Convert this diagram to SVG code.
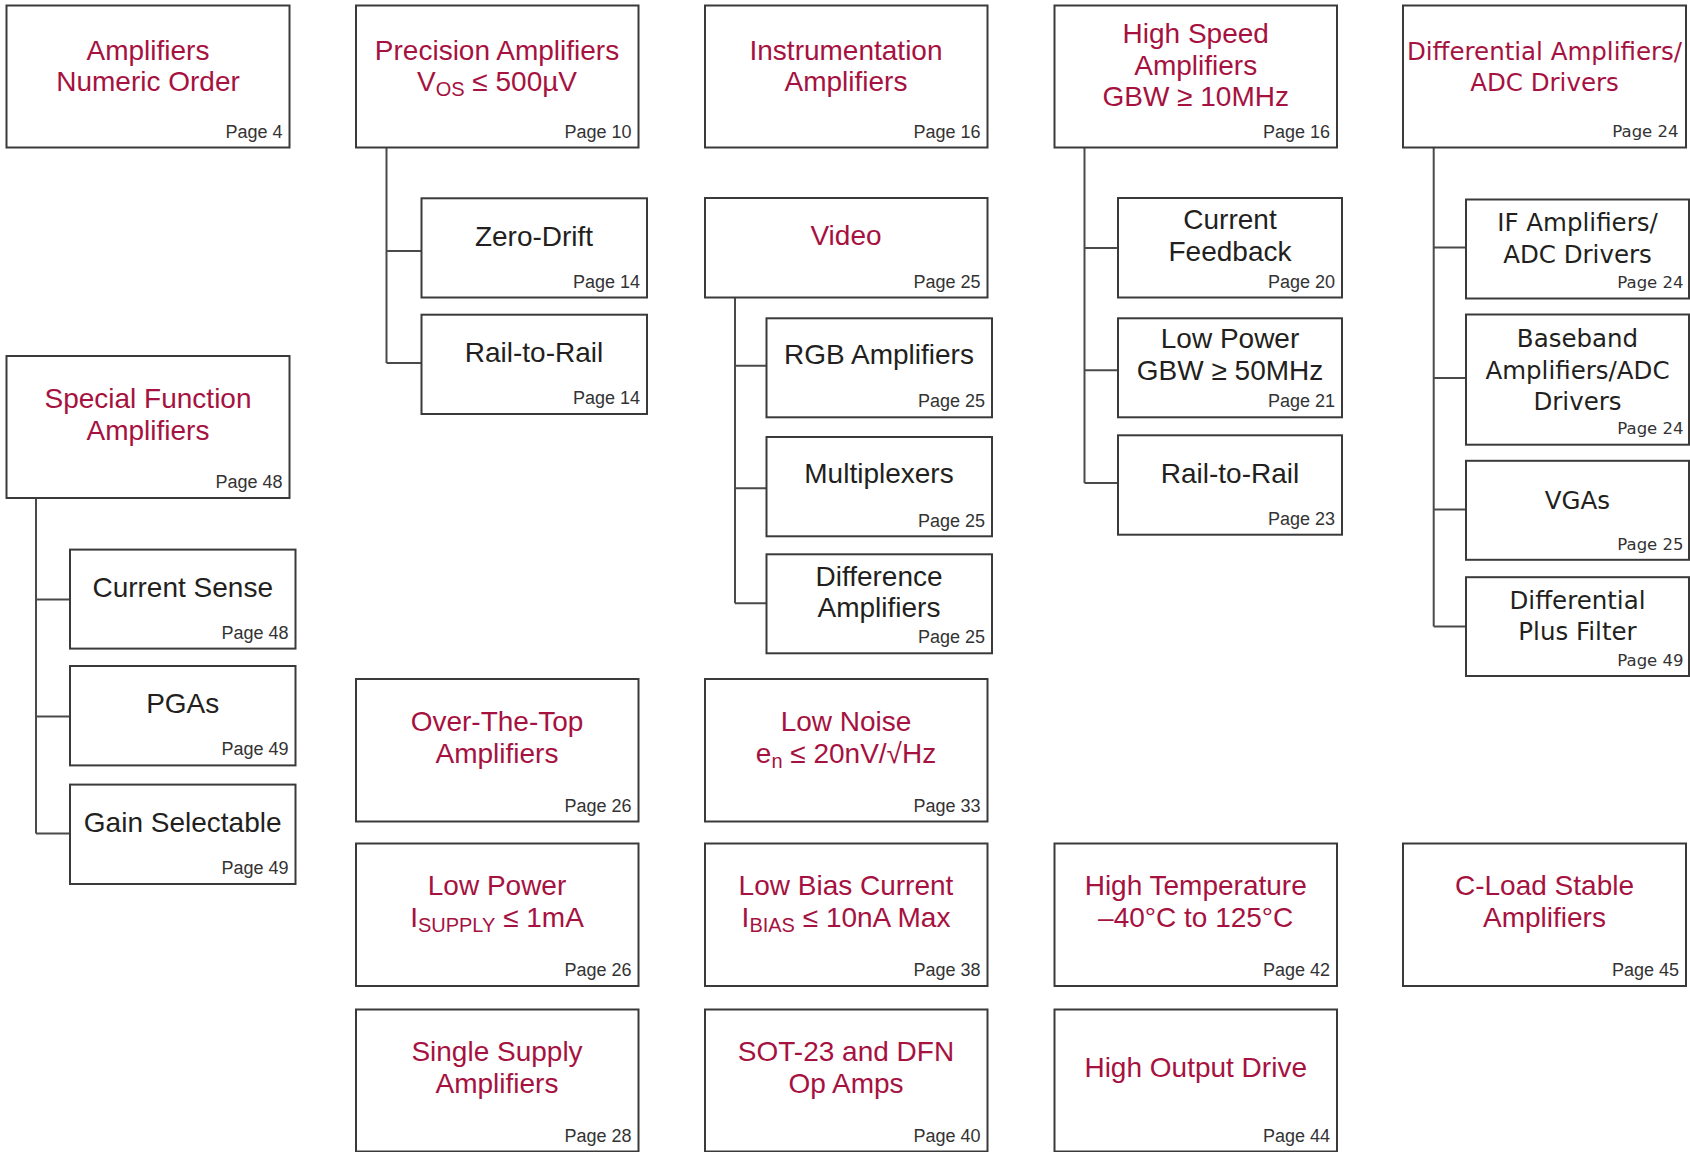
<svg xmlns="http://www.w3.org/2000/svg" width="1690" height="1152" viewBox="0 0 1690 1152">
<style>
.bx{fill:#fff;stroke:#3a3a3a;stroke-width:2}
.cn{fill:none;stroke:#4a4a4a;stroke-width:2}
.t{font-family:"Liberation Sans",Arial,sans-serif;font-size:28px;text-anchor:middle}
.r{fill:#a6123f}
.k{fill:#231f20}
.pg{font-family:"Liberation Sans",Arial,sans-serif;font-size:18px;text-anchor:end;fill:#333}
.g{font-family:"DejaVu Sans",sans-serif;font-size:24.5px;text-anchor:middle}
.gp{font-family:"DejaVu Sans",sans-serif;font-size:16.5px;text-anchor:end;fill:#333}
.sb{font-size:20px}
</style>
<rect width="1690" height="1152" fill="#fff"/>
<g id="connectors">
<path class="cn" d="M36,498V833.6M36,599.6H70M36,716.4H70M36,833.6H70"/>
<path class="cn" d="M386.5,147.5V363M386.5,251H421.5M386.5,363H421.5"/>
<path class="cn" d="M735,297.5V603.3M735,365.7H766M735,488.3H766M735,603.3H766"/>
<path class="cn" d="M1084.5,147.5V483M1084.5,248H1118M1084.5,370.3H1118M1084.5,483H1118"/>
<path class="cn" d="M1433.7,147.5V626.4M1433.7,247.4H1466M1433.7,378H1466M1433.7,509.6H1466M1433.7,626.4H1466"/>
</g>
<!-- Column A -->
<g id="amp-numeric"><rect class="bx" x="6.5" y="5.5" width="283" height="142"/>
<text class="t r" x="148" y="59.5">Amplifiers</text><text class="t r" x="148" y="91">Numeric Order</text>
<text class="pg" x="282.5" y="137.5">Page 4</text></g>
<g id="special-function"><rect class="bx" x="6.5" y="356" width="283" height="142"/>
<text class="t r" x="148" y="408">Special Function</text><text class="t r" x="148" y="440">Amplifiers</text>
<text class="pg" x="282.5" y="488">Page 48</text></g>
<g id="current-sense"><rect class="bx" x="70" y="549.6" width="225.5" height="99"/>
<text class="t k" x="182.7" y="596.5">Current Sense</text>
<text class="pg" x="288.5" y="638.6">Page 48</text></g>
<g id="pgas"><rect class="bx" x="70" y="666" width="225.5" height="99.4"/>
<text class="t k" x="182.7" y="712.5">PGAs</text>
<text class="pg" x="288.5" y="755.4">Page 49</text></g>
<g id="gain-selectable"><rect class="bx" x="70" y="784.6" width="225.5" height="99.4"/>
<text class="t k" x="182.7" y="831.8">Gain Selectable</text>
<text class="pg" x="288.5" y="874">Page 49</text></g>
<!-- Column B -->
<g id="precision"><rect class="bx" x="356" y="5.5" width="282.5" height="142"/>
<text class="t r" x="497" y="59.5">Precision Amplifiers</text>
<text class="t r" x="497" y="91">V<tspan class="sb" dy="5">OS</tspan><tspan dy="-5"> ≤ 500µV</tspan></text>
<text class="pg" x="631.5" y="137.5">Page 10</text></g>
<g id="zero-drift"><rect class="bx" x="421.5" y="198.3" width="225.5" height="99.2"/>
<text class="t k" x="534" y="246">Zero-Drift</text>
<text class="pg" x="640" y="287.5">Page 14</text></g>
<g id="rail-to-rail-b"><rect class="bx" x="421.5" y="314.7" width="225.5" height="99.3"/>
<text class="t k" x="534" y="361.7">Rail-to-Rail</text>
<text class="pg" x="640" y="404">Page 14</text></g>
<g id="over-the-top"><rect class="bx" x="356" y="679" width="282.5" height="142.5"/>
<text class="t r" x="497" y="731">Over-The-Top</text><text class="t r" x="497" y="763">Amplifiers</text>
<text class="pg" x="631.5" y="811.7">Page 26</text></g>
<g id="low-power"><rect class="bx" x="356" y="843.5" width="282.5" height="142.5"/>
<text class="t r" x="497" y="895">Low Power</text>
<text class="t r" x="497" y="927">I<tspan class="sb" dy="5">SUPPLY</tspan><tspan dy="-5"> ≤ 1mA</tspan></text>
<text class="pg" x="631.5" y="976">Page 26</text></g>
<g id="single-supply"><rect class="bx" x="356" y="1009.5" width="282.5" height="142"/>
<text class="t r" x="497" y="1060.5">Single Supply</text><text class="t r" x="497" y="1092.5">Amplifiers</text>
<text class="pg" x="631.5" y="1141.5">Page 28</text></g>
<!-- Column C -->
<g id="instrumentation"><rect class="bx" x="705" y="5.5" width="282.5" height="142"/>
<text class="t r" x="846" y="59.5">Instrumentation</text><text class="t r" x="846" y="91">Amplifiers</text>
<text class="pg" x="980.5" y="137.5">Page 16</text></g>
<g id="video"><rect class="bx" x="705" y="198" width="282.5" height="99.5"/>
<text class="t r" x="846" y="245.3">Video</text>
<text class="pg" x="980.5" y="287.5">Page 25</text></g>
<g id="rgb"><rect class="bx" x="766.5" y="318.3" width="225.5" height="99"/>
<text class="t k" x="879" y="364.3">RGB Amplifiers</text>
<text class="pg" x="985" y="407.3">Page 25</text></g>
<g id="multiplexers"><rect class="bx" x="766.5" y="437" width="225.5" height="99.3"/>
<text class="t k" x="879" y="483.3">Multiplexers</text>
<text class="pg" x="985" y="526.5">Page 25</text></g>
<g id="difference"><rect class="bx" x="766.5" y="554.3" width="225.5" height="99"/>
<text class="t k" x="879" y="585.7">Difference</text><text class="t k" x="879" y="616.7">Amplifiers</text>
<text class="pg" x="985" y="643.3">Page 25</text></g>
<g id="low-noise"><rect class="bx" x="705" y="679" width="282.5" height="142.5"/>
<text class="t r" x="846" y="731">Low Noise</text>
<text class="t r" x="846" y="763">e<tspan class="sb" dy="5">n</tspan><tspan dy="-5"> ≤ 20nV/√Hz</tspan></text>
<text class="pg" x="980.5" y="811.7">Page 33</text></g>
<g id="low-bias"><rect class="bx" x="705" y="843.5" width="282.5" height="142.5"/>
<text class="t r" x="846" y="895">Low Bias Current</text>
<text class="t r" x="846" y="927">I<tspan class="sb" dy="5">BIAS</tspan><tspan dy="-5"> ≤ 10nA Max</tspan></text>
<text class="pg" x="980.5" y="976">Page 38</text></g>
<g id="sot23"><rect class="bx" x="705" y="1009.5" width="282.5" height="142"/>
<text class="t r" x="846" y="1060.5">SOT-23 and DFN</text><text class="t r" x="846" y="1092.5">Op Amps</text>
<text class="pg" x="980.5" y="1141.5">Page 40</text></g>
<!-- Column D -->
<g id="high-speed"><rect class="bx" x="1054.5" y="5.5" width="282.5" height="142"/>
<text class="t r" x="1195.7" y="43.3">High Speed</text><text class="t r" x="1195.7" y="74.5">Amplifiers</text>
<text class="t r" x="1195.7" y="106">GBW ≥ 10MHz</text>
<text class="pg" x="1330" y="137.5">Page 16</text></g>
<g id="current-feedback"><rect class="bx" x="1118" y="198" width="224" height="99.5"/>
<text class="t k" x="1230" y="229.3">Current</text><text class="t k" x="1230" y="260.7">Feedback</text>
<text class="pg" x="1335" y="287.5">Page 20</text></g>
<g id="low-power-gbw"><rect class="bx" x="1118" y="318.3" width="224" height="99"/>
<text class="t k" x="1230" y="348.3">Low Power</text><text class="t k" x="1230" y="380">GBW ≥ 50MHz</text>
<text class="pg" x="1335" y="407.3">Page 21</text></g>
<g id="rail-to-rail-d"><rect class="bx" x="1118" y="435.3" width="224" height="99.4"/>
<text class="t k" x="1230" y="482.7">Rail-to-Rail</text>
<text class="pg" x="1335" y="524.7">Page 23</text></g>
<g id="high-temp"><rect class="bx" x="1054.5" y="843.5" width="282.5" height="142.5"/>
<text class="t r" x="1195.7" y="895">High Temperature</text><text class="t r" x="1195.7" y="927">–40°C to 125°C</text>
<text class="pg" x="1330" y="976">Page 42</text></g>
<g id="high-output"><rect class="bx" x="1054.5" y="1009.5" width="282.5" height="142"/>
<text class="t r" x="1195.7" y="1077">High Output Drive</text>
<text class="pg" x="1330" y="1141.5">Page 44</text></g>
<!-- Column E -->
<g id="diff-amps"><rect class="bx" x="1403" y="5.5" width="283" height="142"/>
<text class="g r" x="1544.5" y="59.5">Differential Amplifiers/</text><text class="g r" x="1544.5" y="90.8">ADC Drivers</text>
<text class="gp" x="1678.5" y="137.4">Page 24</text></g>
<g id="if-amps"><rect class="bx" x="1466" y="199.5" width="223" height="99"/>
<text class="g k" x="1577.5" y="231.3">IF Amplifiers/</text><text class="g k" x="1577.5" y="262.6">ADC Drivers</text>
<text class="gp" x="1683.5" y="288.3">Page 24</text></g>
<g id="baseband"><rect class="bx" x="1466" y="314.5" width="223" height="130.2"/>
<text class="g k" x="1577.5" y="347.2">Baseband</text><text class="g k" x="1577.5" y="378.5">Amplifiers/ADC</text>
<text class="g k" x="1577.5" y="410.3">Drivers</text>
<text class="gp" x="1683.5" y="434.2">Page 24</text></g>
<g id="vgas"><rect class="bx" x="1466" y="460.8" width="223" height="99"/>
<text class="g k" x="1577.5" y="509.2">VGAs</text>
<text class="gp" x="1683.5" y="549.5">Page 25</text></g>
<g id="diff-plus-filter"><rect class="bx" x="1466" y="577.2" width="223" height="98.8"/>
<text class="g k" x="1577.5" y="608.5">Differential</text><text class="g k" x="1577.5" y="639.8">Plus Filter</text>
<text class="gp" x="1683.5" y="666">Page 49</text></g>
<g id="c-load"><rect class="bx" x="1403" y="843.5" width="283" height="142.5"/>
<text class="t r" x="1544.5" y="895">C-Load Stable</text><text class="t r" x="1544.5" y="927">Amplifiers</text>
<text class="pg" x="1679" y="976">Page 45</text></g>
</svg>
